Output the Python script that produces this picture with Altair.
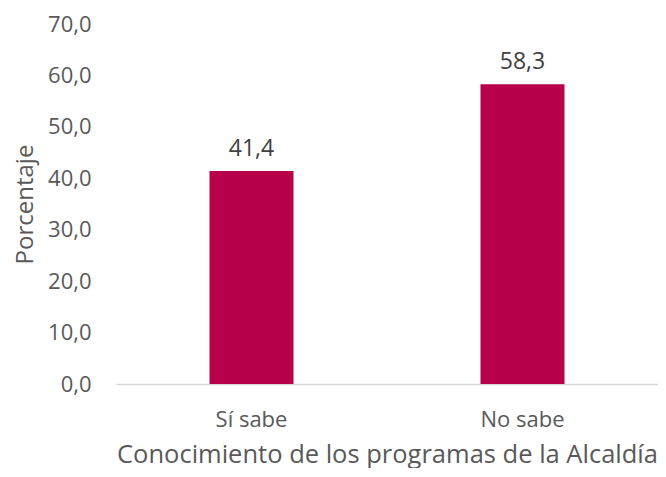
import altair as alt
import pandas as pd

categories = ["Sí sabe", "No sabe"]
values = [41.4, 58.3]

df = pd.DataFrame({"cat": categories, "val": values})

FONT = "Open Sans"
GRAY = "#595959"

x = alt.X("cat:N", sort=categories,
          scale=alt.Scale(paddingInner=0.69, paddingOuter=0.345),
          axis=alt.Axis(title="Conocimiento de los programas de la Alcaldía",
                        labelAngle=0, labelFontSize=22, labelColor=GRAY, labelFont=FONT,
                        labelPadding=25, ticks=False, domainColor="#D9D9D9", domainWidth=1.5,
                        titleFontSize=25.5, titleFont=FONT, titleColor=GRAY, titleFontWeight="normal",
                        titlePadding=12))
y = alt.Y("val:Q", scale=alt.Scale(domain=[0, 70]),
          axis=alt.Axis(title="Porcentaje", values=[0, 10, 20, 30, 40, 50, 60, 70],
                        labelExpr="replace(format(datum.value, '.1f'), '.', ',')",
                        labelFontSize=22, labelColor=GRAY, labelFont=FONT,
                        labelPadding=25, ticks=False, domain=False, grid=False,
                        titleFontSize=24, titleFont=FONT, titleColor=GRAY, titleFontWeight="normal",
                        titlePadding=10))

bars = alt.Chart(df).mark_bar(color="#B8004B").encode(x=x, y=y)
labels = alt.Chart(df).transform_calculate(
    lbl="replace(format(datum.val, '.1f'), '.', ',')"
).mark_text(dy=-22, fontSize=23, font=FONT, color="#404040").encode(
    x=alt.X("cat:N", sort=categories), y="val:Q", text="lbl:N")

chart = (bars + labels).properties(
    width=542, height=360,
    autosize=alt.AutoSizeParams(type="none"),
    padding={"left": 108, "top": 16, "right": 0, "bottom": 84},
).configure_view(stroke=None).configure_axis(grid=False)

chart.save("out.html", embed_options={"renderer": "svg", "actions": False})
